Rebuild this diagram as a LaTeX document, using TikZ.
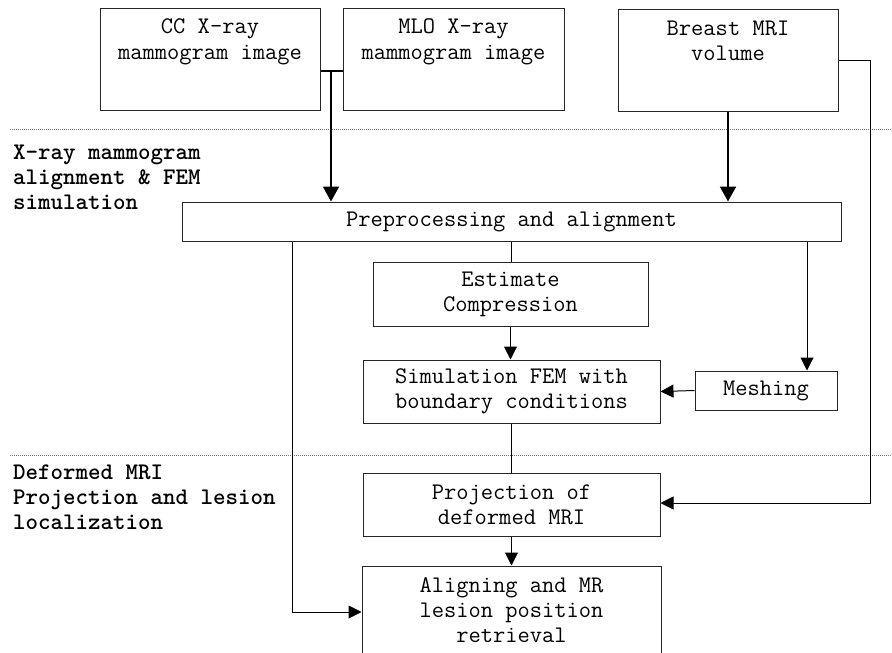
\documentclass[tikz,border=0pt]{standalone}
\usepackage{fontspec}
\usetikzlibrary{arrows.meta}
\newcommand\boxsize{\fontsize{23.8}{25}\selectfont}
\tikzset{
  stepbox/.style={draw=black!85, line width=1pt, rectangle, inner sep=0pt,
    align=center, font=\ttfamily\boxsize},
  boxtext/.style={inner sep=0pt, align=center, font=\ttfamily\boxsize},
  phase/.style={inner sep=0pt, align=left, font=\ttfamily\bfseries\boxsize},
  link/.style={line width=1pt, draw=black},
  arr/.style={link, -{Triangle[length=13pt,width=13pt]}},
  bigarr/.style={line width=2.2pt, draw=black, -{Triangle[length=15pt,width=16pt]}},
  bigline/.style={line width=2.2pt, draw=black},
  sep/.style={draw=black!55, line width=0.7pt, dash pattern=on 1pt off 1pt}
}
\begin{document}
\begin{tikzpicture}[x=1pt,y=-1pt]
\fill[white] (0,0) rectangle (892,653);
\useasboundingbox (0,0) rectangle (892,653);

% phase separators
\draw[sep] (10,129) -- (892,129);
\draw[sep] (10,455) -- (892,455);

% phase titles (anchored on the baseline of their last line)
\node[phase, anchor=base west] (ph1) at (13,209) {X-ray mammogram\\alignment \& FEM\\simulation};
\node[phase, anchor=base west] (ph2) at (13,529) {Deformed MRI\\Projection and lesion\\localization};

% input boxes
\node[stepbox, minimum width=220pt, minimum height=102pt] (cc) at (210,59) {};
\node[stepbox, minimum width=221pt, minimum height=102pt] (mlo) at (453.5,59) {};
\node[stepbox, minimum width=220pt, minimum height=102pt] (mri) at (728,60) {};
\node[boxtext, anchor=base] (cct) at (210,59) {CC X-ray\\mammogram image};
\node[boxtext, anchor=base] (mlot) at (453.5,59) {MLO X-ray\\mammogram image};
\node[boxtext, anchor=base] (mrit) at (728,60) {Breast MRI\\volume};

% processing boxes
\node[stepbox, minimum width=659pt, minimum height=39pt] (prep) at (511.5,221.5) {Preprocessing and alignment};
\node[stepbox, minimum width=275pt, minimum height=64pt] (est) at (510.5,294) {Estimate\\Compression};
\node[stepbox, minimum width=297pt, minimum height=63pt] (sim) at (511.5,391.5) {Simulation FEM with\\boundary conditions};
\node[stepbox, minimum width=142pt, minimum height=39pt] (mesh) at (766,390.5) {Meshing};
\node[stepbox, minimum width=297pt, minimum height=63pt] (proj) at (511.5,504.5) {Projection of\\deformed MRI};
\node[stepbox, minimum width=299pt, minimum height=89pt] (ali) at (511.5,610.5) {Aligning and MR\\lesion position\\retrieval};

% routing points
\coordinate (j) at (331,71);
\coordinate (mr) at (870,60);
\coordinate (lft) at (292,0);
\coordinate (msh) at (807,0);
\coordinate (pe) at ([yshift=1.5pt]proj.east);

% connectors
\draw[bigline] (cc.east |- j) -- (mlo.west |- j);
\draw[bigarr] (j) -- (j |- prep.north);
\draw[bigarr] (mri.south) -- (mri.south |- prep.north);
\draw[arr] (mri.east |- mr) -- (mr) |- (pe);
\draw[arr] (prep.south -| lft) |- ([yshift=-1.5pt]ali.west);
\draw[link] (prep.south) -- (prep.south |- est.north);
\draw[arr] (est.south) -- (est.south |- sim.north);
\draw[arr] (prep.south -| msh) -- (mesh.north -| msh);
\draw[arr] (mesh.west) -- (sim.east);
\draw[link] (sim.south) -- (proj.north);
\draw[arr] (proj.south) -- (ali.north);
\end{tikzpicture}
\end{document}
